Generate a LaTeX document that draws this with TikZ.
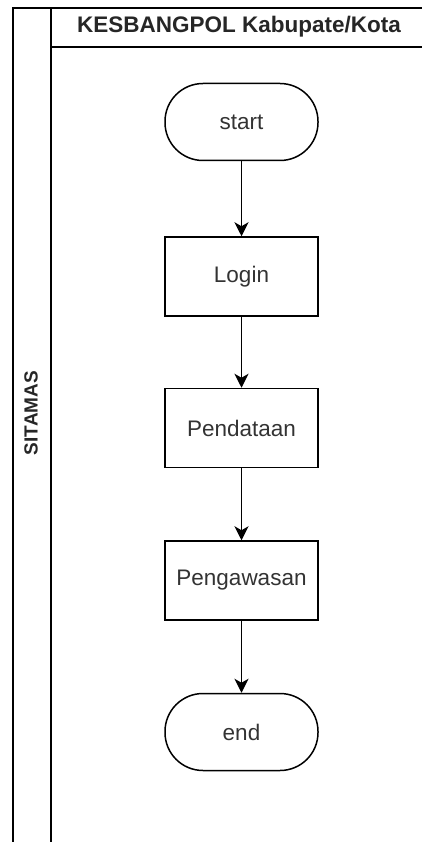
\documentclass[tikz,border=0pt]{standalone}
\usepackage{fontspec}
\setmainfont{Liberation Sans}
\usetikzlibrary{arrows.meta}
\begin{document}
\begin{tikzpicture}[
  stepbox/.style={draw=black, line width=1.5pt, minimum width=153pt, minimum height=79pt, inner sep=0pt, text=black!80, font=\fontsize{22.5}{27}\selectfont},
  termbox/.style={stepbox, rounded corners=38pt, minimum height=77pt},
  lanetext/.style={text=black!85, font=\bfseries\fontsize{22.5}{27}\selectfont},
  flow/.style={-{Stealth[length=14pt,width=14pt,inset=4pt]}, line width=1.4pt}
]
\useasboundingbox (0pt,0pt) rectangle (422pt,-842pt);
\draw[line width=1.6pt] (422pt,-8pt) -- (13pt,-8pt) -- (13pt,-842pt);
\draw[line width=1.6pt] (51pt,-8pt) -- (51pt,-842pt);
\draw[line width=1.6pt] (51pt,-47pt) -- (422pt,-47pt);
\node[lanetext] (lane) at (239pt,-27pt) {KESBANGPOL Kabupate/Kota};
\node[lanetext, rotate=90, font=\bfseries\fontsize{19}{23}\selectfont] (pool) at (31pt,-413pt) {SITAMAS};
\node[termbox] (start) at (241.5pt,-122pt) {start};
\node[stepbox] (login) at (241.5pt,-276.5pt) {Login};
\node[stepbox] (data) at (241.5pt,-428pt) {Pendataan};
\node[stepbox] (awas) at (241.5pt,-580.5pt) {Pengawasan};
\node[termbox] (end) at (241.5pt,-732pt) {end};
\draw[flow] (start) -- (login);
\draw[flow] (login) -- (data);
\draw[flow] (data) -- (awas);
\draw[flow] (awas) -- (end);
\end{tikzpicture}
\end{document}
